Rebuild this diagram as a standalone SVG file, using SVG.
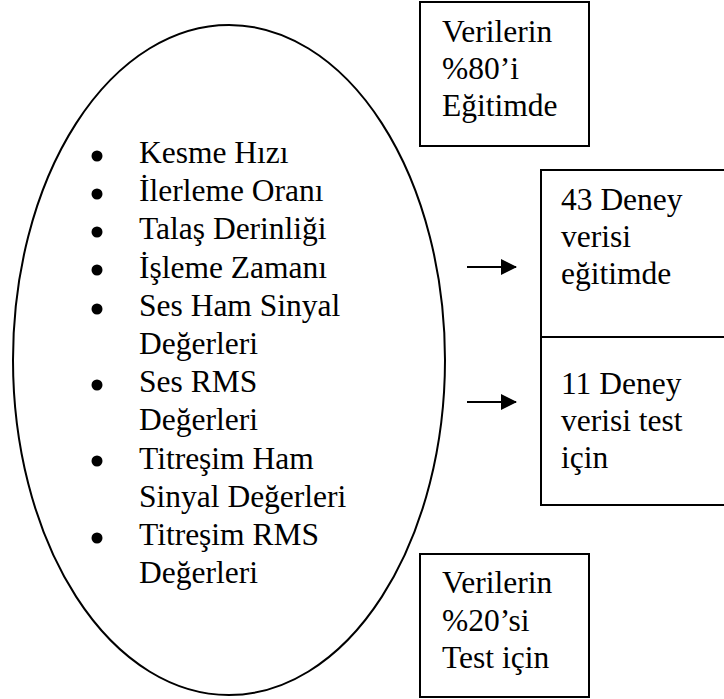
<svg xmlns="http://www.w3.org/2000/svg" width="724" height="699" viewBox="0 0 724 699">
  <defs>
    <style>
      .shape { fill: #fff; stroke: #000; stroke-width: 2; }
      .txt { font-family: "Liberation Serif", "Times New Roman", serif; font-size: 31.5px; fill: #000; }
      .bullet { fill: #000; }
      .link { stroke: #000; stroke-width: 2; fill: none; }
    </style>
    <marker id="arrowhead" markerWidth="16" markerHeight="16" refX="15" refY="8" orient="auto" markerUnits="userSpaceOnUse">
      <path d="M0,0 L16,8 L0,16 Z" fill="#000"/>
    </marker>
  </defs>
  <rect width="724" height="699" fill="#fff"/>

  <!-- parameter list -->
  <g id="parameters">
    <ellipse class="shape" cx="229" cy="360" rx="216" ry="335" stroke-width="1.8"/>
    <g class="bullet">
      <circle cx="97" cy="156" r="5.5"/>
      <circle cx="97" cy="194" r="5.5"/>
      <circle cx="97" cy="232" r="5.5"/>
      <circle cx="97" cy="270" r="5.5"/>
      <circle cx="97" cy="309" r="5.5"/>
      <circle cx="97" cy="385" r="5.5"/>
      <circle cx="97" cy="461" r="5.5"/>
      <circle cx="97" cy="538" r="5.5"/>
    </g>
    <text class="txt" x="139">
      <tspan x="139" y="163">Kesme Hızı</tspan>
      <tspan x="139" y="201.2">İlerleme Oranı</tspan>
      <tspan x="139" y="239.4">Talaş Derinliği</tspan>
      <tspan x="139" y="277.6">İşleme Zamanı</tspan>
      <tspan x="139" y="315.8">Ses Ham Sinyal</tspan>
      <tspan x="139" y="354">Değerleri</tspan>
      <tspan x="139" y="392.2">Ses RMS</tspan>
      <tspan x="139" y="430.4">Değerleri</tspan>
      <tspan x="139" y="468.6">Titreşim Ham</tspan>
      <tspan x="139" y="506.8">Sinyal Değerleri</tspan>
      <tspan x="139" y="545">Titreşim RMS</tspan>
      <tspan x="139" y="583.2">Değerleri</tspan>
    </text>
  </g>

  <!-- training share -->
  <g id="train-share">
    <rect class="shape" x="420" y="2" width="169" height="144"/>
    <text class="txt">
      <tspan x="442" y="42">Verilerin</tspan>
      <tspan x="442" y="79">%80’i</tspan>
      <tspan x="442" y="116">Eğitimde</tspan>
    </text>
  </g>

  <!-- training experiments -->
  <g id="train-set">
    <rect class="shape" x="541" y="170" width="200" height="167"/>
    <text class="txt">
      <tspan x="561" y="210">43 Deney</tspan>
      <tspan x="561" y="247">verisi</tspan>
      <tspan x="561" y="284">eğitimde</tspan>
    </text>
  </g>

  <!-- test experiments -->
  <g id="test-set">
    <rect class="shape" x="541" y="337" width="200" height="168"/>
    <text class="txt">
      <tspan x="561" y="394">11 Deney</tspan>
      <tspan x="561" y="431">verisi test</tspan>
      <tspan x="561" y="468">için</tspan>
    </text>
  </g>

  <!-- test share -->
  <g id="test-share">
    <rect class="shape" x="420" y="554" width="169" height="143"/>
    <text class="txt">
      <tspan x="442" y="593">Verilerin</tspan>
      <tspan x="442" y="631">%20’si</tspan>
      <tspan x="442" y="668">Test için</tspan>
    </text>
  </g>

  <!-- connectors -->
  <g id="connectors">
    <line class="link" x1="467" y1="267" x2="516" y2="267" marker-end="url(#arrowhead)"/>
    <line class="link" x1="467" y1="402" x2="516" y2="402" marker-end="url(#arrowhead)"/>
  </g>
</svg>
